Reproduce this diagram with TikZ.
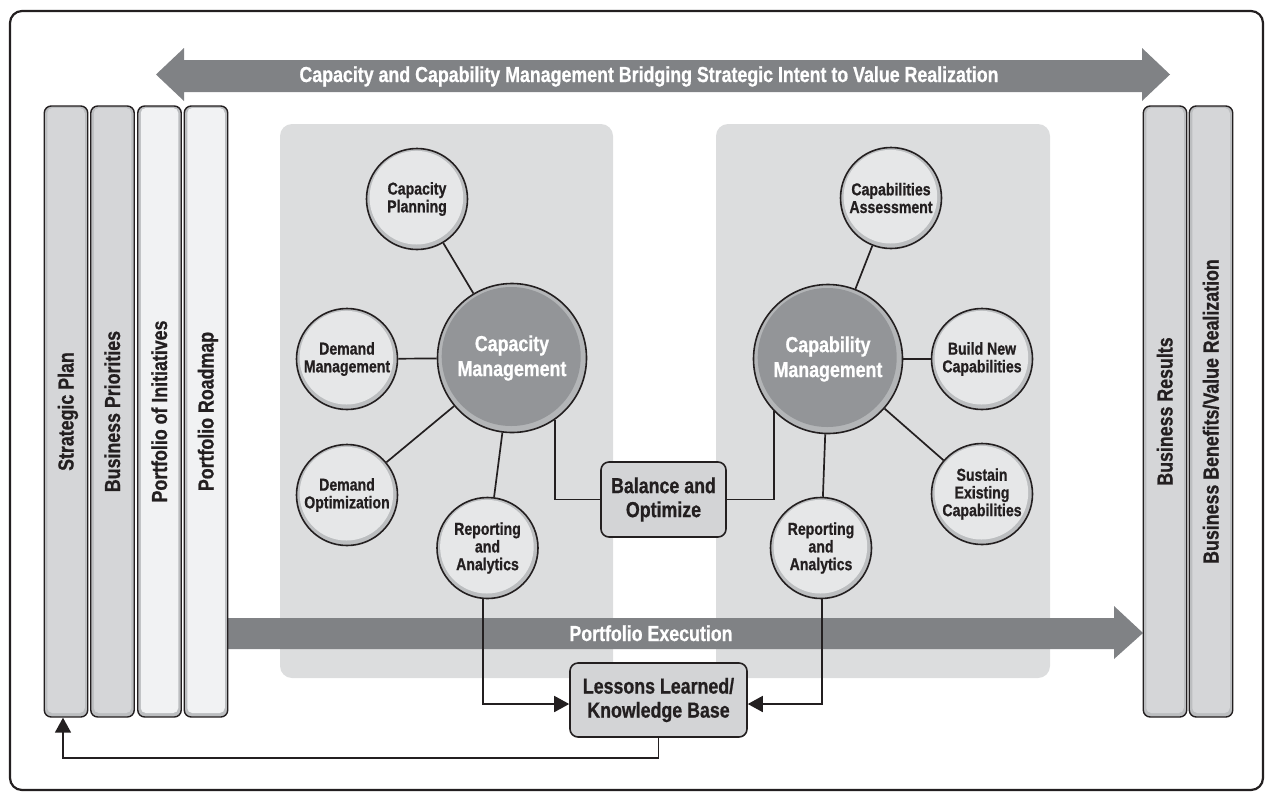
\documentclass[tikz,border=0pt]{standalone}
\usepackage{fontspec}
\setmainfont{Liberation Sans}[FakeStretch=0.82, UprightFont={* Bold}, BoldFont={* Bold}, ItalicFont={* Bold}, FakeBold=0.8]
\usetikzlibrary{arrows.meta,calc}
\definecolor{arrowgray}{HTML}{808285}
\definecolor{panelgray}{HTML}{DCDDDE}
\definecolor{circfill}{HTML}{E6E7E8}
\definecolor{ringgray}{HTML}{BCBEC0}
\definecolor{biggray}{HTML}{939598}
\definecolor{bigring}{HTML}{B3B5B7}
\definecolor{boxgray}{HTML}{D3D4D6}
\definecolor{bardark}{HTML}{D5D6D8}
\definecolor{barlight}{HTML}{F1F2F3}
\definecolor{ink}{HTML}{231F20}
\tikzset{
  conn/.style={draw=ink, line width=1.7pt},
  tipped/.style={-{Triangle[length=15pt,width=16pt]}},
  smallc/.style={circle, minimum size=101pt, inner sep=0pt, draw=ink, line width=1.6pt,
    fill=ringgray, align=center, text=ink, font=\fontsize{17.2}{17.7}\selectfont,
    path picture={\fill[circfill] ($(path picture bounding box.center)+(-0.6pt,1.3pt)$) circle[radius=46.8pt];}},
  bigc/.style={circle, minimum size=149pt, inner sep=0pt, draw=ink, line width=1.6pt,
    fill=bigring, align=center, text=white, font=\fontsize{21.7}{25}\selectfont,
    path picture={\fill[biggray] ($(path picture bounding box.center)+(-0.8pt,1.5pt)$) circle[radius=69.5pt];}},
  boxn/.style={rectangle, rounded corners=8pt, draw=ink, line width=1.6pt, fill=boxgray,
    align=center, text=ink, inner sep=0pt, font=\fontsize{21.7}{24}\selectfont},
  barn/.style={rectangle, rounded corners=7pt, draw=ink, line width=1.4pt, fill=ringgray,
    minimum width=43.5pt, minimum height=611pt, inner sep=0pt,
    path picture={\fill[#1, rounded corners=5pt] ($(path picture bounding box.south west)+(3pt,4pt)$) rectangle ($(path picture bounding box.north east)+(-3pt,-2pt)$);}},
  barlabel/.style={rotate=90, anchor=base, text=ink, inner sep=0pt, font=\fontsize{21.7}{24}\selectfont},
  bandtext/.style={anchor=base, text=white, inner sep=0pt, font=\fontsize{21.7}{24}\selectfont},
}
\begin{document}
\begin{tikzpicture}[x=1pt,y=-1pt]
\useasboundingbox (0,0) rectangle (1265,793);
% outer frame
\draw[ink, line width=2.2pt, rounded corners=12pt] (10,11) rectangle (1263,790);
% panels
\fill[panelgray, rounded corners=12pt] (280,124) rectangle (613,678);
\fill[panelgray, rounded corners=12pt] (716,124) rectangle (1050,678);
% top double arrow
\fill[arrowgray] (156,74.5) -- (184,48) -- (184,60) -- (1142,60) -- (1142,48) -- (1170,74.5)
  -- (1142,101) -- (1142,92) -- (184,92) -- (184,101) -- cycle;
\node[bandtext] (title) at (649,82) {Capacity and Capability Management Bridging Strategic Intent to Value Realization};
% portfolio execution arrow
\fill[arrowgray] (228,618) -- (1114,618) -- (1114,606) -- (1143,633) -- (1114,659) -- (1114,649) -- (228,649) -- cycle;
\node[bandtext] (pe) at (651,641) {Portfolio Execution};
% left bars
\node[barn=bardark] (sp) at (66,411.5) {};
\node[barn=bardark] (bp) at (112.5,411.5) {};
\node[barn=barlight] (pi) at (159.5,411.5) {};
\node[barn=barlight] (pr) at (206,411.5) {};
\node[barlabel] (spl) at (73.5,411.5) {Strategic Plan};
\node[barlabel] (bpl) at (120,411.5) {Business Priorities};
\node[barlabel] (pil) at (167,411.5) {Portfolio of Initiatives};
\node[barlabel] (prl) at (213.5,411.5) {Portfolio Roadmap};
% right bars
\node[barn=bardark] (br) at (1165,411.5) {};
\node[barn=bardark] (bb) at (1211,411.5) {};
\node[barlabel] (brl) at (1172.5,411.5) {Business Results};
\node[barlabel] (bbl) at (1218.5,411.5) {Business Benefits/Value Realization};
% capacity cluster
\node[bigc] (cm) at (512,358) {Capacity\\Management};
\node[smallc] (cp) at (417,199) {Capacity\\Planning};
\node[smallc] (dm) at (347,359) {Demand\\Management};
\node[smallc] (do) at (347,495) {Demand\\Optimization};
\node[smallc] (ra1) at (487.5,548) {Reporting\\and\\Analytics};
% capability cluster
\node[bigc] (km) at (828,359) {Capability\\Management};
\node[smallc] (ca) at (891,198) {Capabilities\\Assessment};
\node[smallc] (bn) at (982,359) {Build New\\Capabilities};
\node[smallc] (se) at (982,494) {Sustain\\Existing\\Capabilities};
\node[smallc] (ra2) at (821,548) {Reporting\\and\\Analytics};
% boxes
\node[boxn, minimum width=125pt, minimum height=75pt] (bal) at (663.5,499.5) {Balance and\\Optimize};
\node[boxn, minimum width=177pt, minimum height=74pt] (ll) at (658.5,700) {Lessons Learned/\\Knowledge Base};
% connectors
\draw[conn] (cp) -- (cm);
\draw[conn] (dm) -- (cm);
\draw[conn] (do) -- (cm);
\draw[conn] (ra1) -- (cm);
\draw[conn] (ca) -- (km);
\draw[conn] (bn) -- (km);
\draw[conn] (se) -- (km);
\draw[conn] (ra2) -- (km);
\draw[conn] (cm.-55.7) |- (bal.west);
\draw[conn] (bal.east) -| (km.-136.5);
\draw[conn, tipped] (ra1.-95) |- ($(ll.west)+(0pt,-4pt)$);
\draw[conn, tipped] (ra2.-89) |- ($(ll.east)+(0pt,-4pt)$);
\coordinate (fbc) at (63,758);
\draw[conn, tipped] (ll.south) |- (fbc) -- (fbc |- sp.south);
\end{tikzpicture}
\end{document}
